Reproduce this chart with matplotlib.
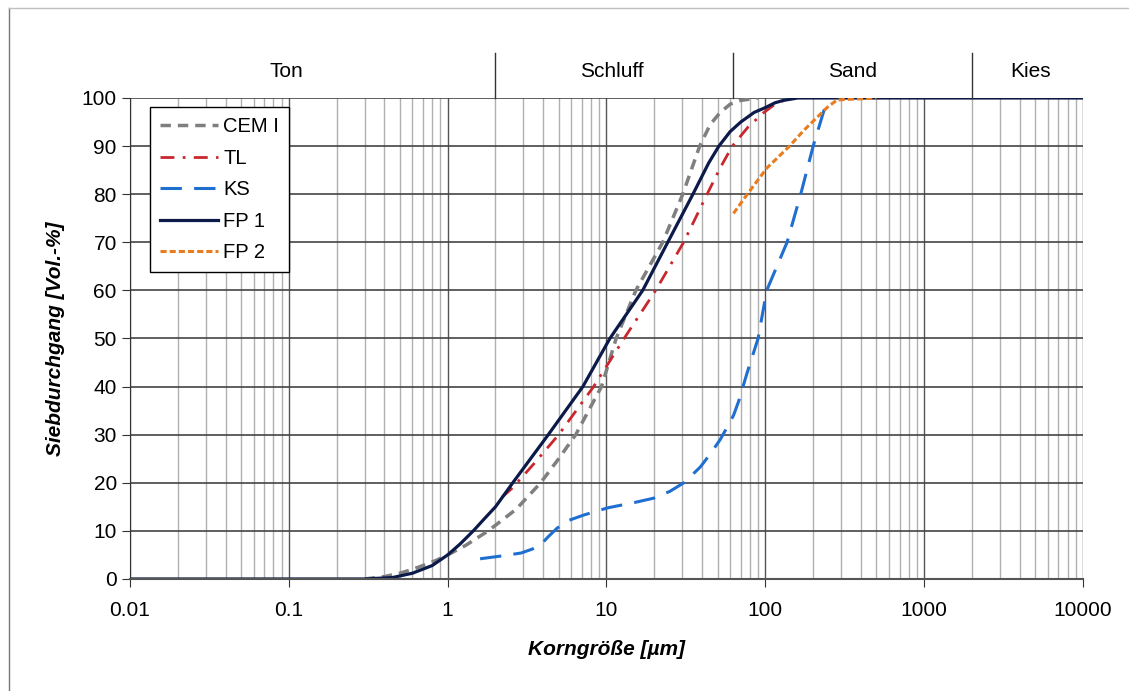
import numpy as np
import matplotlib.pyplot as plt
from matplotlib.lines import Line2D

plt.rcParams["font.family"] = ["Liberation Sans", "DejaVu Sans"]

# === Data ===
cem_x = [0.3, 0.4, 0.5, 0.6, 0.7, 0.85, 1.0, 1.3, 1.8, 2.7, 3.85, 5.0, 6.4, 9.3, 11.5, 15.3, 22.6, 30.2,
         38.6, 45, 52, 60, 70, 90]
cem_y = [0, 0.5, 1.2, 2.0, 2.8, 3.9, 5, 7, 10, 14.5, 20, 25, 30, 40, 50, 60, 70, 80,
         90, 94.5, 97, 98.7, 99.5, 100]

tl_x = [2.2, 2.57, 3.5, 5.0, 8.3, 12.9, 20.4, 30.6, 43, 52, 62, 78, 98, 115, 131, 150]
tl_y = [17, 19, 24, 30, 40, 50, 60, 70, 80, 85.5, 90, 94, 97, 98.7, 99.5, 100]

ks_x = [1.6, 2.2, 2.9, 3.4, 3.85, 4.3, 4.9, 5.8, 7.2, 10.2, 15, 19.8, 25, 30.7, 35, 39, 45, 52, 57.6,
        63, 68, 77, 90, 102, 137, 167, 200, 245, 250]
ks_y = [4.2, 4.8, 5.4, 6.2, 7.1, 8.8, 10.6, 12.2, 13.3, 14.8, 15.9, 16.8, 18.2, 20, 21.8, 23.3, 26, 29,
        31.6, 34, 37, 43, 50, 60, 70, 80, 90, 99.6, 100]

fp1_x = [0.01, 0.1, 0.3, 0.45, 0.6, 0.8, 1.0, 1.2, 1.45, 1.7, 2.0, 2.57, 4.3, 7.1, 10.5, 16.9, 24.3, 35,
         44, 51, 60, 70, 85, 100, 115, 130, 160, 10000]
fp1_y = [0, 0, 0, 0.3, 1.2, 2.8, 5, 7.3, 10, 12.5, 15, 20, 30, 40, 50, 60, 70, 80,
         86.5, 90, 93, 95, 97, 98, 99, 99.5, 100, 100]

fp2_x = [63, 77, 102, 142, 175, 212, 250, 284, 500]
fp2_y = [76, 80, 85.4, 90, 93.3, 96, 98.3, 99.6, 100]

zone_bounds = [2, 63, 2000]
zone_names = ["Ton", "Schluff", "Sand", "Kies"]
zone_label_x = [0.097, 10.8, 352, 4650]

# === Figure ===
fig = plt.figure(figsize=(11.29, 6.91), dpi=100)
ax = fig.add_axes([0.1151, 0.1621, 0.8442, 0.6961])
ax.set_xscale("log")
ax.set_xlim(0.01, 10000)
ax.set_ylim(0, 100)

# grid
ax.grid(True, which="major", axis="x", color="#555555", lw=1.0)
ax.grid(True, which="minor", axis="x", color="#b0b0b0", lw=1.0)
ax.grid(True, which="major", axis="y", color="#444444", lw=1.2)
ax.set_axisbelow(True)

ax.plot(cem_x, cem_y, color="#7f7f7f", lw=2.5, ls=(0, (3, 2)), label="CEM I")
ax.plot(tl_x, tl_y, color="#c8282d", lw=2.0, ls=(0, (5, 3, 1, 3)), label="TL")
ax.plot(ks_x, ks_y, color="#1f6fd1", lw=2.2, ls=(0, (7, 4)), label="KS")
ax.plot(fp1_x, fp1_y, color="#0c1a4a", lw=2.3, label="FP 1")
ax.plot(fp2_x, fp2_y, color="#e87c1e", lw=2.2, ls=(0, (2, 1)), label="FP 2")

ax.set_xticks([0.01, 0.1, 1, 10, 100, 1000, 10000])
ax.set_xticklabels(["0.01", "0.1", "1", "10", "100", "1000", "10000"])
ax.set_yticks(np.arange(0, 101, 10))
ax.tick_params(axis="both", which="major", labelsize=15, color="#333333", length=6)
ax.tick_params(axis="x", which="minor", length=0)
ax.tick_params(axis="x", pad=10)

for side in ["top", "right"]:
    ax.spines[side].set_visible(False)
ax.spines["left"].set_color("#333333")
ax.spines["bottom"].set_color("#555555")
ax.spines["bottom"].set_linewidth(1.5)

ax.set_xlabel("Korngröße [µm]", fontsize=15, fontweight="bold", style="italic", labelpad=14)
ax.set_ylabel("Siebdurchgang [Vol.-%]", fontsize=15, fontweight="bold", style="italic", labelpad=12)

leg = ax.legend(loc="upper left", bbox_to_anchor=(0.021, 0.981), fontsize=14.5, frameon=True,
                fancybox=False, edgecolor="black", handlelength=2.9, handletextpad=0.25,
                labelspacing=0.62, borderpad=0.5, borderaxespad=0, framealpha=1)
leg.get_frame().set_linewidth(1.0)

# soil fraction band above the plot
for b in zone_bounds:
    ax.plot([b, b], [100, 109.4], color="#333333", lw=1.0, clip_on=False)
for name, xc in zip(zone_names, zone_label_x):
    ax.text(xc, 105.6, name, ha="center", va="center", fontsize=15, clip_on=False)

# outer frame (left and top edges)
fig.add_artist(Line2D([9 / 1129, 9 / 1129], [0, 1 - 8 / 691], color="#777777", lw=1.0))
fig.add_artist(Line2D([9 / 1129, 1], [1 - 8 / 691, 1 - 8 / 691], color="#c0c0c0", lw=1.0))

fig.savefig("out.png", dpi=100)
